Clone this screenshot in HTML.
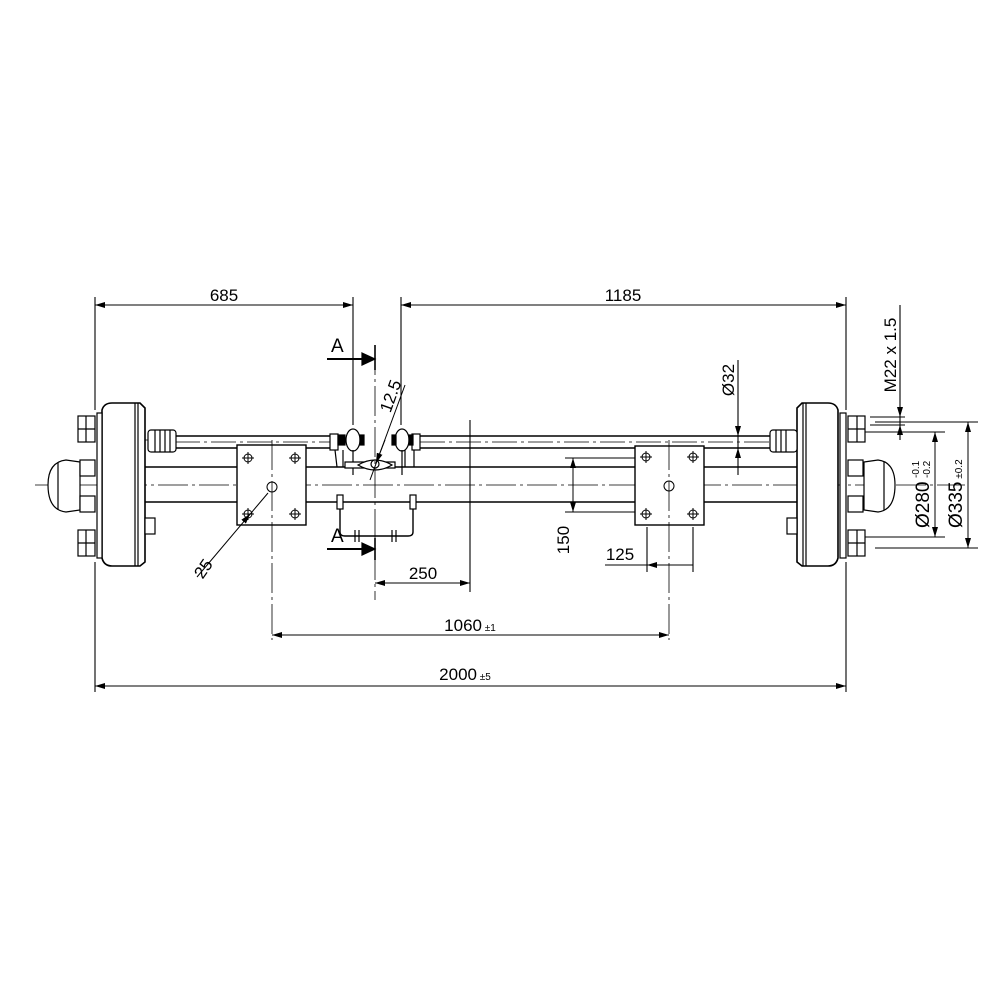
<!DOCTYPE html>
<html><head><meta charset="utf-8"><style>html,body{margin:0;background:#fff}</style></head><body>
<svg width="1000" height="1000" viewBox="0 0 1000 1000" xmlns="http://www.w3.org/2000/svg" font-family="Liberation Sans, sans-serif">
<defs>
<marker id="a" viewBox="0 0 10 6" refX="10" refY="3" markerWidth="10" markerHeight="6" orient="auto-start-reverse" markerUnits="userSpaceOnUse"><path d="M0,0L10,3L0,6z" fill="#000"/></marker>
</defs>
<g stroke="#000" fill="none" stroke-width="1.2">
<line x1="35" y1="485" x2="965" y2="485" stroke-dasharray="30,4,3,4" stroke-width="0.8"/>
<line x1="145" y1="467" x2="797" y2="467" stroke-width="1.6"/>
<line x1="145" y1="502" x2="797" y2="502" stroke-width="1.6"/>
<line x1="175" y1="436" x2="330" y2="436" stroke-width="1.6"/>
<line x1="175" y1="448" x2="330" y2="448" stroke-width="1.6"/>
<line x1="175" y1="442" x2="330" y2="442" stroke-dasharray="25,4,3,4" stroke-width="0.7"/>
<line x1="420" y1="436" x2="770" y2="436" stroke-width="1.6"/>
<line x1="420" y1="448" x2="770" y2="448" stroke-width="1.6"/>
<line x1="420" y1="442" x2="770" y2="442" stroke-dasharray="25,4,3,4" stroke-width="0.7"/>
<path d="M102,410 Q104,403 112,403 L140,403 L145,408 L145,562 L140,566 L112,566 Q104,566 102,558 Z" fill="#fff" stroke-width="1.6"/>
<line x1="138" y1="403" x2="138" y2="566"/><line x1="135" y1="403" x2="135" y2="566"/>
<rect x="97" y="413" width="5" height="145" fill="#fff"/>
<path d="M80,462 L66,460 Q48,462 48,485 Q48,510 66,512 L80,510 Z" fill="#fff"/>
<line x1="58" y1="462" x2="58" y2="510"/>
<g fill="#fff"><rect x="78" y="416" width="17" height="26"/><rect x="80" y="460" width="15" height="16"/><rect x="80" y="496" width="15" height="16"/><rect x="78" y="530" width="17" height="26"/><rect x="145" y="518" width="10" height="16"/></g>
<line x1="78" y1="429" x2="95" y2="429"/><line x1="78" y1="543" x2="95" y2="543"/><line x1="86" y1="416" x2="86" y2="442"/><line x1="86" y1="530" x2="86" y2="556"/>
<line x1="145" y1="440" x2="175" y2="440" stroke-width="0.8"/>
<rect x="148" y="430" width="28" height="22" rx="3" fill="#fff"/>
<line x1="155" y1="430" x2="155" y2="452"/><line x1="160" y1="430" x2="160" y2="452"/><line x1="165" y1="430" x2="165" y2="452"/><line x1="170" y1="430" x2="170" y2="452"/>
<path d="M838,410 Q836,403 828,403 L802,403 L797,408 L797,562 L802,566 L828,566 Q836,566 838,558 Z" fill="#fff" stroke-width="1.6"/>
<line x1="803" y1="403" x2="803" y2="566"/><line x1="806" y1="403" x2="806" y2="566"/>
<rect x="840" y="413" width="6" height="145" fill="#fff"/>
<path d="M864,462 L878,460 Q895,462 895,485 Q895,510 878,512 L864,510 Z" fill="#fff"/>
<line x1="884" y1="462" x2="884" y2="510"/>
<g fill="#fff"><rect x="848" y="416" width="17" height="26"/><rect x="848" y="460" width="15" height="16"/><rect x="848" y="496" width="15" height="16"/><rect x="848" y="530" width="17" height="26"/><rect x="787" y="518" width="10" height="16"/></g>
<line x1="848" y1="429" x2="865" y2="429"/><line x1="848" y1="543" x2="865" y2="543"/><line x1="857" y1="416" x2="857" y2="442"/><line x1="857" y1="530" x2="857" y2="556"/>
<rect x="770" y="430" width="27" height="22" rx="3" fill="#fff"/>
<line x1="776" y1="430" x2="776" y2="452"/><line x1="781" y1="430" x2="781" y2="452"/><line x1="786" y1="430" x2="786" y2="452"/>
<rect x="237" y="445" width="69" height="80" fill="#fff" stroke-width="1.4"/>
<rect x="635" y="446" width="69" height="79" fill="#fff" stroke-width="1.4"/>
<g stroke-width="1">
<circle cx="272" cy="487" r="5" fill="#fff"/><circle cx="669" cy="486" r="5" fill="#fff"/>
<circle cx="248" cy="458" r="4"/><circle cx="295" cy="458" r="4"/><circle cx="248" cy="514" r="4"/><circle cx="295" cy="514" r="4"/>
<circle cx="646" cy="457" r="4"/><circle cx="693" cy="457" r="4"/><circle cx="646" cy="514" r="4"/><circle cx="693" cy="514" r="4"/>
<path d="M242,458h12M248,452v12M289,458h12M295,452v12M242,514h12M248,508v12M289,514h12M295,508v12M640,457h12M646,451v12M687,457h12M693,451v12M640,514h12M646,508v12M687,514h12M693,508v12"/>
</g>
<line x1="272" y1="440" x2="272" y2="640" stroke-dasharray="30,4,3,4" stroke-width="0.8"/>
<line x1="669" y1="440" x2="669" y2="640" stroke-dasharray="30,4,3,4" stroke-width="0.8"/>
<rect x="330" y="434" width="8" height="16" fill="#fff"/><rect x="412" y="434" width="8" height="16" fill="#fff"/>
<path d="M335,450 L337,467 M343,450 L343,467 M405,450 L405,467 M414,450 L414,467"/>
<ellipse cx="353" cy="440" rx="7" ry="11" fill="#fff"/><ellipse cx="402" cy="440" rx="7" ry="11" fill="#fff"/>
<rect x="338" y="435" width="7" height="10" fill="#000"/><rect x="360" y="435" width="4" height="10" fill="#000"/>
<rect x="392" y="435" width="4" height="10" fill="#000"/><rect x="409" y="435" width="4" height="10" fill="#000"/>
<line x1="353" y1="450" x2="353" y2="475"/><line x1="402" y1="450" x2="402" y2="475"/>
<path d="M345,462 L395,462 L395,468 L345,468 Z" fill="#fff"/>
<path d="M358,465 Q375,455 392,465 Q375,475 358,465 Z" fill="#fff"/>
<circle cx="375" cy="464" r="4" fill="#fff"/>
<path d="M340,495 L340,532 Q340,536 345,536 L408,536 Q413,536 413,532 L413,495" stroke-width="1.4"/>
<rect x="337" y="495" width="6" height="14" fill="#fff"/><rect x="410" y="495" width="6" height="14" fill="#fff"/>
<path d="M355,530v12M359,530v12M392,530v12M396,530v12"/>
<line x1="375" y1="345" x2="375" y2="600" stroke-dasharray="30,4,3,4" stroke-width="0.8"/>
<line x1="375" y1="345" x2="375" y2="370" stroke-width="1.6"/><line x1="375" y1="538" x2="375" y2="560" stroke-width="1.6"/>
<line x1="327" y1="359" x2="362" y2="359" stroke-width="2"/><path d="M362,353L375,359L362,365z" fill="#000"/>
<line x1="327" y1="549" x2="362" y2="549" stroke-width="2"/><path d="M362,543L375,549L362,555z" fill="#000"/>
<g stroke-width="1.1">
<line x1="95" y1="297" x2="95" y2="410"/><line x1="95" y1="562" x2="95" y2="692"/>
<line x1="846" y1="297" x2="846" y2="410"/><line x1="846" y1="562" x2="846" y2="692"/>
<line x1="353" y1="297" x2="353" y2="425"/><line x1="401" y1="297" x2="401" y2="425"/>
<line x1="470" y1="420" x2="470" y2="592"/>
<line x1="647" y1="527" x2="647" y2="572"/><line x1="693" y1="527" x2="693" y2="572"/>
<line x1="565" y1="458" x2="635" y2="458"/><line x1="565" y1="512" x2="635" y2="512"/>
<line x1="738" y1="360" x2="738" y2="475"/>
<line x1="875" y1="422" x2="978" y2="422"/><line x1="875" y1="548" x2="978" y2="548"/>
<line x1="865" y1="432" x2="945" y2="432"/><line x1="865" y1="537" x2="945" y2="537"/>
<line x1="870" y1="417" x2="905" y2="417"/><line x1="870" y1="425" x2="905" y2="425" />
<line x1="900" y1="305" x2="900" y2="440"/>
</g>
<g stroke-width="1" marker-start="url(#a)" marker-end="url(#a)">
<line x1="95" y1="305" x2="353" y2="305"/>
<line x1="401" y1="305" x2="846" y2="305"/>
<line x1="95" y1="686" x2="846" y2="686"/>
<line x1="272" y1="635" x2="669" y2="635"/>
<line x1="375" y1="583" x2="470" y2="583"/>
<line x1="573" y1="458" x2="573" y2="512"/>
<line x1="935" y1="432" x2="935" y2="537"/>
<line x1="968" y1="422" x2="968" y2="548"/>
</g>
<line x1="605" y1="565" x2="647" y2="565" stroke-width="1"/><line x1="693" y1="565" x2="647" y2="565" stroke-width="1" marker-end="url(#a)"/>
<line x1="738" y1="430" x2="738" y2="436" stroke-width="1" marker-end="url(#a)"/>
<line x1="738" y1="455" x2="738" y2="448" stroke-width="1" marker-end="url(#a)"/>
<line x1="900" y1="407" x2="900" y2="417" stroke-width="1" marker-end="url(#a)"/>
<line x1="900" y1="435" x2="900" y2="425" stroke-width="1" marker-end="url(#a)"/>
<line x1="197" y1="577" x2="268" y2="493" stroke-width="1"/><line x1="245" y1="520" x2="250" y2="514" stroke-width="1" marker-end="url(#a)"/>
<line x1="405" y1="385" x2="370" y2="480" stroke-width="1"/><line x1="385" y1="440" x2="376" y2="463" stroke-width="1" marker-end="url(#a)"/>
</g>
<g font-size="17" fill="#000">
<text x="224" y="301" text-anchor="middle">685</text>
<text x="623" y="301" text-anchor="middle">1185</text>
<text x="465" y="680" text-anchor="middle">2000<tspan font-size="10"> ±5</tspan></text>
<text x="470" y="631" text-anchor="middle">1060<tspan font-size="10"> ±1</tspan></text>
<text x="423" y="579" text-anchor="middle">250</text>
<text x="620" y="560" text-anchor="middle">125</text>
<text x="331" y="352" font-size="19">A</text>
<text x="331" y="542" font-size="19">A</text>
<text transform="translate(569,540) rotate(-90)" text-anchor="middle">150</text>
<text transform="translate(734,380) rotate(-90)" text-anchor="middle">Ø32</text>
<text transform="translate(896,355) rotate(-90)" text-anchor="middle">M22 x 1.5</text>
<text transform="translate(929,528) rotate(-90)" font-size="19">Ø280</text>
<text transform="translate(919,478) rotate(-90)" font-size="10">-0.1</text>
<text transform="translate(930,478) rotate(-90)" font-size="10">-0.2</text>
<text transform="translate(962,528) rotate(-90)" font-size="19">Ø335<tspan font-size="10"> ±0.2</tspan></text>
<text transform="translate(208,572) rotate(-55)" text-anchor="middle">25</text>
<text transform="translate(396,398) rotate(-70)" text-anchor="middle">12.5</text>
</g>
</svg>
</body></html>
